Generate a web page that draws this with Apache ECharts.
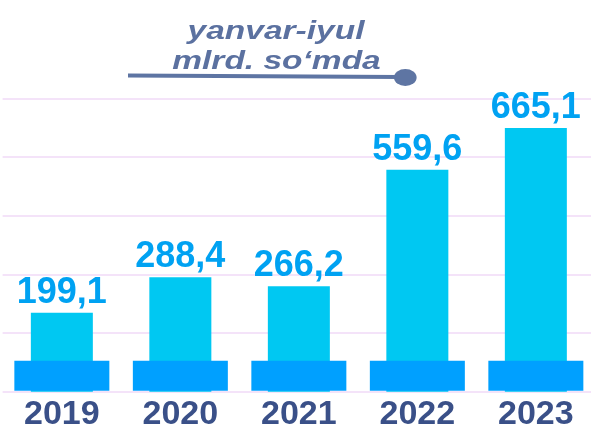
<!DOCTYPE html>
<html>
<head>
<meta charset="utf-8">
<script src="https://cdn.jsdelivr.net/npm/echarts@6/dist/echarts.min.js"></script>
<style>
html,body{margin:0;padding:0;background:#fff;}
#chart{width:591px;height:425px;}
</style>
</head>
<body>
<div id="chart"></div>
<script>
// ---- data ----
const categories = ['2019', '2020', '2021', '2022', '2023'];
const values = [199.1, 288.4, 266.2, 559.6, 665.1];
const titleLines = ['yanvar-iyul', 'mlrd. so\u2018mda'];

// ---- chart ----
const chart = echarts.init(document.getElementById('chart'), null, {renderer: 'canvas'});

const option = {
  animation: false,
  backgroundColor: '#ffffff',
  grid: {left: 2.6, width: 592.5, top: 98.3, height: 293.4, containLabel: false, outerBoundsMode: 'none'},
  xAxis: [{
    type: 'category',
    data: categories,
    axisLine: {show: false},
    axisTick: {show: false},
    axisLabel: {
      margin: 6,
      color: '#3A5088',
      fontFamily: '"Liberation Sans", Arial, sans-serif',
      fontWeight: 'bold',
      fontSize: 34
    }
  }],
  yAxis: [{
    type: 'value',
    min: 0,
    max: 740,
    interval: 148,
    axisLabel: {show: false},
    axisLine: {show: false},
    axisTick: {show: false},
    splitLine: {show: true, lineStyle: {color: '#F1DAF7', width: 1.5}}
  }],
  series: [
    {
      type: 'bar',
      data: values,
      barWidth: 62,
      z: 2,
      itemStyle: {color: '#00C8F2'},
      label: {
        show: true,
        position: 'top',
        distance: 2,
        color: '#00A2F2',
        fontFamily: '"Liberation Sans", Arial, sans-serif',
        fontWeight: 'bold',
        fontSize: 36,
        formatter: p => String(p.value).replace('.', ',')
      }
    },
    {
      type: 'custom',
      z: 3,
      silent: true,
      data: categories.map((c, i) => [i, 0]),
      encode: {x: 0, y: 1},
      renderItem: function (params, api) {
        const p = api.coord([api.value(0), 0]);
        return {
          type: 'rect',
          shape: {x: p[0] - 47.5, y: p[1] - 31, width: 95, height: 30},
          style: {fill: '#00A0FF'}
        };
      }
    }
  ],
  graphic: [
    {
      type: 'line',
      shape: {x1: 128, y1: 75.5, x2: 400, y2: 77},
      style: {stroke: '#5E75A3', lineWidth: 4}
    },
    {
      type: 'circle',
      x: 405.3, y: 77.5,
      scaleX: 1.33,
      shape: {cx: 0, cy: 0, r: 8.5},
      style: {fill: '#5E75A3'}
    },
    {
      type: 'text',
      x: 276, y: 32.5,
      scaleX: 1.34,
      style: {
        text: titleLines[0],
        x: 0, y: 0,
        align: 'center',
        verticalAlign: 'middle',
        font: 'italic bold 25px "Liberation Sans", Arial, sans-serif',
        fill: '#5B71A0'
      }
    },
    {
      type: 'text',
      x: 276.5, y: 62.3,
      scaleX: 1.34,
      style: {
        text: titleLines[1],
        x: 0, y: 0,
        align: 'center',
        verticalAlign: 'middle',
        font: 'italic bold 25px "Liberation Sans", Arial, sans-serif',
        fill: '#5B71A0'
      }
    }
  ]
};
chart.setOption(option);
</script>
</body>
</html>
